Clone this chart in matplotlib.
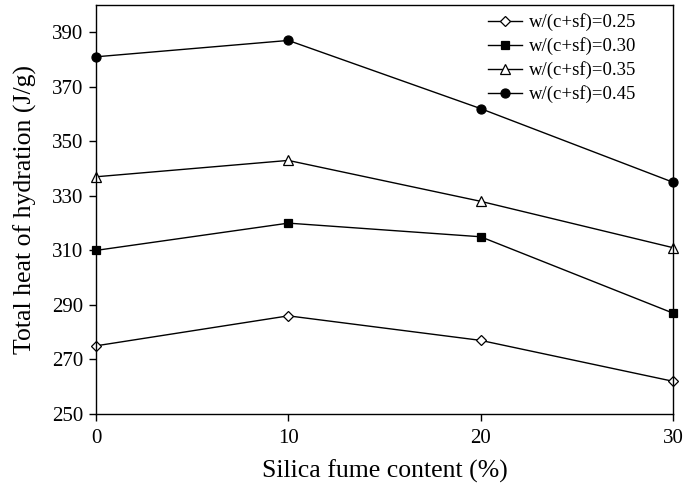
import matplotlib
matplotlib.use("Agg")
import matplotlib.pyplot as plt

sf_content = [0, 10, 20, 30]
labels = ["w/(c+sf)=0.25", "w/(c+sf)=0.30", "w/(c+sf)=0.35", "w/(c+sf)=0.45"]
heat_025 = [275, 286, 277, 262]
heat_030 = [310, 320, 315, 287]
heat_035 = [337, 343, 328, 311]
heat_045 = [381, 387, 362, 335]
xticks = [0, 10, 20, 30]
yticks = [250, 270, 290, 310, 330, 350, 370, 390]

plt.rcParams['font.family'] = ['Liberation Serif', 'DejaVu Serif']

fig = plt.figure(figsize=(6.85, 4.93), dpi=100)
ax = fig.add_axes([96/685, 1-414/493, (673-96)/685, (414-5)/493])

styles = [
    dict(marker='D', mfc='white', mec='black', ms=5.5),
    dict(marker='s', mfc='black', mec='black', ms=6),
    dict(marker='^', mfc='white', mec='black', ms=7),
    dict(marker='o', mfc='black', mec='black', ms=6.5),
]
for vals, lab, st in zip([heat_025, heat_030, heat_035, heat_045], labels, styles):
    ax.plot(sf_content, vals, color='black', lw=1.0, label=lab, clip_on=False, mew=0.9, **st)

ax.set_xlim(0, 30)
ax.set_ylim(250, 400)
ax.set_xticks(xticks)
ax.set_yticks(yticks)
ax.tick_params(direction='out', length=5, width=1, labelsize=15, top=False, right=False)
ax.tick_params(axis='x', pad=6)
ax.tick_params(axis='y', pad=4)
for s in ax.spines.values():
    s.set_linewidth(1.0)

ax.set_xlabel("Silica fume content (%)", fontsize=18.5, labelpad=8)
ax.set_ylabel("Total heat of hydration (J/g)", fontsize=18.5, labelpad=11)

ax.legend(loc='upper right', frameon=False, fontsize=13.5, handlelength=1.8,
          handletextpad=0.35, labelspacing=0.32, borderaxespad=0,
          bbox_to_anchor=(1 - 29.5/577, 1 - 1/409))

fig.savefig("out.png", dpi=100)
